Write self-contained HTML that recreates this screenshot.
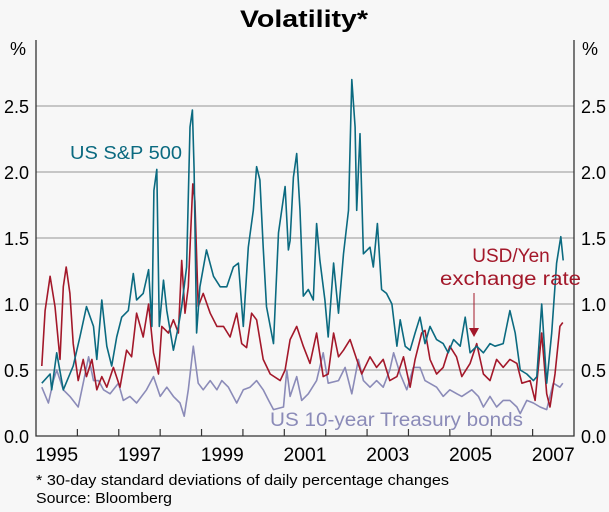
<!DOCTYPE html>
<html><head><meta charset="utf-8"><style>
body{margin:0;background:#f7f7f7;}
svg{display:block;font-family:"Liberation Sans",Arial,sans-serif;}
</style></head><body>
<svg id="chart" width="609" height="512">
<rect width="609" height="512" fill="#f7f7f7"/>
<text x="240" y="27" font-size="24" font-weight="bold" fill="#000" textLength="128" lengthAdjust="spacingAndGlyphs">Volatility*</text>
<g id="grid"></g>
<g id="lines"></g>
<g id="axes"></g>
<text x="70" y="159" font-size="18" fill="#0b6a80" textLength="112" lengthAdjust="spacingAndGlyphs">US S&amp;P 500</text>
<text x="511" y="262" text-anchor="middle" font-size="19" fill="#a3182a">USD/Yen</text>
<text x="440" y="285" font-size="19" fill="#a3182a" textLength="141" lengthAdjust="spacingAndGlyphs">exchange rate</text>
<line x1="474" y1="293" x2="474" y2="330" stroke="#a3182a" stroke-width="1"/>
<polygon points="469,328 479,328 474,337" fill="#a3182a"/>
<text x="270" y="426" font-size="19" fill="#8b8bb8" textLength="253" lengthAdjust="spacingAndGlyphs">US 10-year Treasury bonds</text>
<text x="36" y="485" font-size="15" fill="#000" textLength="413" lengthAdjust="spacingAndGlyphs">*   30-day standard deviations of daily percentage changes</text>
<text x="36" y="503" font-size="15" fill="#000" textLength="136" lengthAdjust="spacingAndGlyphs">Source: Bloomberg</text>
</svg>
<script>
const yTicks=[0,0.5,1.0,1.5,2.0,2.5];
const yTickLabels=["0.0","0.5","1.0","1.5","2.0","2.5"];
const xYearLabels=[1995,1997,1999,2001,2003,2005,2007];
const spDates=[1995.14,1995.34,1995.38,1995.50,1995.66,1995.90,1996.06,1996.22,1996.39,1996.47,1996.59,1996.71,1996.83,1996.95,1997.07,1997.23,1997.35,1997.43,1997.59,1997.72,1997.80,1997.85,1997.92,1997.98,1998.08,1998.16,1998.32,1998.44,1998.52,1998.64,1998.72,1998.78,1998.82,1998.88,1998.96,1999.12,1999.29,1999.45,1999.61,1999.77,1999.89,2000.01,2000.13,2000.25,2000.33,2000.41,2000.49,2000.57,2000.74,2000.86,2001.02,2001.10,2001.14,2001.22,2001.30,2001.38,2001.46,2001.58,2001.70,2001.78,2001.86,2001.98,2002.06,2002.19,2002.31,2002.43,2002.55,2002.63,2002.71,2002.75,2002.83,2002.91,2003.07,2003.15,2003.25,2003.35,2003.47,2003.60,2003.72,2003.80,2003.92,2004.04,2004.16,2004.28,2004.40,2004.52,2004.68,2004.84,2004.96,2005.09,2005.25,2005.37,2005.49,2005.65,2005.81,2005.97,2006.09,2006.29,2006.45,2006.58,2006.70,2006.86,2007.02,2007.10,2007.22,2007.34,2007.46,2007.58,2007.68,2007.74];
const spValues=[.40,.47,.35,.63,.35,.53,.75,.98,.83,.58,1.03,.68,.53,.75,.90,.95,1.23,1.03,1.08,1.26,.83,1.86,2.02,.83,1.18,.95,.65,.83,.98,1.28,2.34,2.47,2.02,.78,1.13,1.41,1.21,1.13,1.13,1.28,1.31,.83,1.43,1.71,2.04,1.94,1.43,.98,.70,1.54,1.89,1.41,1.48,1.96,2.14,1.71,1.06,1.11,1.03,1.61,1.33,1.03,.75,1.31,.93,1.38,1.71,2.70,2.34,1.71,2.29,1.38,1.43,1.28,1.61,1.11,1.08,1.0,.68,.88,.68,.65,.78,.90,.70,.83,.73,.70,.63,.73,.68,.90,.63,.68,.63,.70,.68,.70,.95,.78,.50,.47,.42,.45,1.0,.40,.78,1.31,1.51,1.33];
const fxDates=[1995.14,1995.22,1995.34,1995.46,1995.58,1995.66,1995.73,1995.82,1995.90,1996.02,1996.14,1996.22,1996.35,1996.47,1996.59,1996.71,1996.87,1997.03,1997.19,1997.31,1997.43,1997.59,1997.72,1997.84,1997.96,1998.04,1998.20,1998.32,1998.44,1998.52,1998.60,1998.68,1998.79,1998.84,1998.92,1999.04,1999.21,1999.37,1999.53,1999.69,1999.85,1999.97,2000.09,2000.21,2000.33,2000.49,2000.66,2000.90,2001.02,2001.14,2001.30,2001.46,2001.62,2001.78,2001.94,2002.06,2002.19,2002.31,2002.43,2002.59,2002.75,2002.87,2003.07,2003.23,2003.39,2003.55,2003.72,2003.88,2004.04,2004.16,2004.32,2004.40,2004.52,2004.68,2004.84,2005.00,2005.16,2005.29,2005.49,2005.65,2005.81,2005.97,2006.13,2006.29,2006.45,2006.62,2006.74,2006.94,2007.06,2007.22,2007.34,2007.42,2007.54,2007.66,2007.73];
const fxValues=[.53,.95,1.21,.98,.58,1.13,1.28,1.08,.70,.42,.58,.45,.58,.35,.45,.37,.52,.37,.65,.60,.93,.75,1.0,.63,.47,.83,.78,.88,.78,1.33,.93,1.13,1.91,1.78,.98,1.08,.93,.83,.83,.75,.93,.70,.67,.93,.88,.58,.47,.42,.50,.73,.83,.68,.55,.78,.45,.47,.78,.60,.65,.73,.58,.47,.60,.52,.58,.42,.45,.60,.37,.58,.78,.80,.58,.47,.52,.68,.60,.45,.55,.70,.47,.42,.58,.52,.58,.55,.40,.42,.27,.78,.32,.22,.47,.83,.86];
const tbDates=[1995.14,1995.30,1995.42,1995.50,1995.66,1995.82,1996.02,1996.14,1996.27,1996.39,1996.51,1996.63,1996.79,1996.99,1997.11,1997.27,1997.43,1997.67,1997.84,1998.00,1998.16,1998.32,1998.48,1998.58,1998.68,1998.80,1998.92,1999.04,1999.21,1999.37,1999.49,1999.65,1999.85,2000.01,2000.17,2000.33,2000.49,2000.62,2000.74,2000.98,2001.06,2001.14,2001.30,2001.42,2001.58,2001.78,2001.94,2002.06,2002.31,2002.47,2002.63,2002.79,2002.91,2003.07,2003.23,2003.39,2003.55,2003.64,2003.80,2003.96,2004.12,2004.28,2004.40,2004.68,2004.84,2005.00,2005.17,2005.29,2005.53,2005.69,2005.81,2005.97,2006.13,2006.29,2006.45,2006.62,2006.70,2006.86,2007.02,2007.18,2007.34,2007.50,2007.66,2007.73];
const tbValues=[.37,.25,.42,.50,.35,.30,.22,.40,.60,.42,.42,.35,.32,.40,.27,.30,.25,.35,.45,.30,.37,.30,.25,.15,.35,.68,.40,.35,.42,.35,.42,.37,.25,.35,.37,.42,.35,.27,.20,.22,.50,.30,.45,.27,.32,.42,.63,.40,.42,.52,.32,.58,.42,.37,.42,.37,.50,.63,.47,.35,.52,.52,.42,.37,.30,.35,.32,.30,.35,.30,.22,.30,.22,.27,.27,.22,.17,.27,.25,.22,.20,.40,.37,.40];

const L=36,R=574,B=436,PX_PER_UNIT=132,X0=1995,X1=2008;
const xScale=d=>L+(d-X0)*(R-L)/(X1-X0);
const yScale=v=>B-v*PX_PER_UNIT;
const NS="http://www.w3.org/2000/svg";
const mk=(t,a,p)=>{const e=document.createElementNS(NS,t);for(const k in a)e.setAttribute(k,a[k]);p.appendChild(e);return e;};
const grid=document.getElementById('grid'),axes=document.getElementById('axes'),lines=document.getElementById('lines');
yTicks.forEach((v,i)=>{
  if(v>0){const g=mk('line',{x1:L,x2:R,y1:yScale(v),y2:yScale(v),stroke:'#a8a8a8','stroke-width':1.2},grid);
  
  }
  const tl=mk('text',{x:29,y:yScale(v)+7,'text-anchor':'end','font-size':18},axes);tl.textContent=yTickLabels[i];
  
  
  const tr=mk('text',{x:581,y:yScale(v)+7,'font-size':18},axes);tr.textContent=yTickLabels[i];
  
  
});
const pl=mk('text',{x:18,y:55,'text-anchor':'middle','font-size':18},axes);pl.textContent='%';


const pr=mk('text',{x:590,y:55,'text-anchor':'middle','font-size':18},axes);pr.textContent='%';


const frame=mk('path',{d:`M${L},${yScale(3)}V${B}H${R}V${yScale(3)}`,fill:'none',stroke:'#333','stroke-width':1.3},axes);


for(let y=X0+1;y<X1;y++){const t=mk('line',{x1:xScale(y),x2:xScale(y),y1:B,y2:B-7,stroke:'#333','stroke-width':1.2},axes);
  
  }
xYearLabels.forEach(y=>{const t=mk('text',{x:xScale(y+0.5)-21.5,y:461,'font-size':19,textLength:43,lengthAdjust:'spacingAndGlyphs'},axes);t.textContent=y;
  
  });
function series(d,v,c,name){
  const p=mk('path',{d:d.map((x,i)=>(i?'L':'M')+xScale(x).toFixed(1)+','+yScale(v[i]).toFixed(1)).join(''),fill:'none',stroke:c,'stroke-width':1.6,'stroke-linejoin':'round'},lines);
  
  
}
series(tbDates,tbValues,'#8b8bb8','treasury-line');
series(fxDates,fxValues,'#a3182a','usdyen-line');
series(spDates,spValues,'#0b6a80','sp500-line');
</script>
</body></html>
